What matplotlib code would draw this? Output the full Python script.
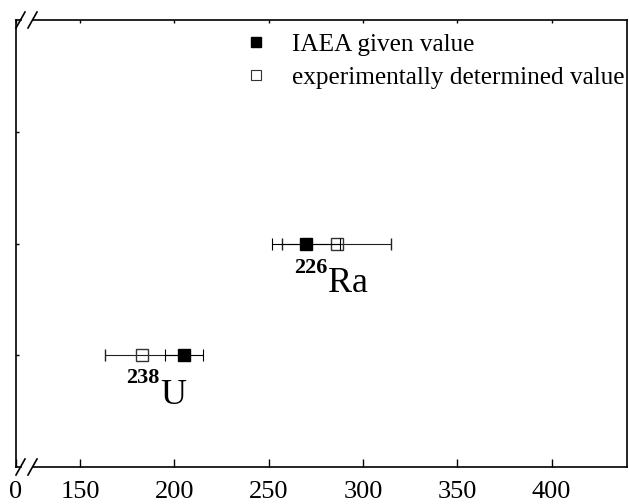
import matplotlib
matplotlib.use('Agg')
import matplotlib.pyplot as plt
from matplotlib.lines import Line2D

plt.rcParams['font.family'] = ['Liberation Serif', 'DejaVu Serif']

# activity values per nuclide, row 1 = U-238, row 2 = Ra-226
rows = [1, 2]
iaea_val = [205, 270]
iaea_err = [10, 18]
exp_val = [183, 286]
exp_err = [20, 29]

xticks = [116, 150, 200, 250, 300, 350, 400]
xticklabels = ['0', '150', '200', '250', '300', '350', '400']


def draw():
    fig = plt.figure(figsize=(6.29, 5.04), dpi=100)
    ax = fig.add_axes([16 / 629, 1 - 467 / 504, 611 / 629, 447 / 504])

    ax.errorbar(exp_val, rows, xerr=exp_err, fmt='s', ms=9, mfc='none',
                mec='#333333', mew=1.0, ecolor='#222222', elinewidth=0.8,
                capsize=4, capthick=0.8, zorder=3)
    ax.errorbar(iaea_val, rows, xerr=iaea_err, fmt='s', ms=9, color='k',
                ecolor='k', elinewidth=0.8, capsize=4, capthick=0.8, zorder=4)

    ax.set_xlim(116, 440)
    ax.set_ylim(0, 4)
    ax.set_xticks(xticks)
    ax.set_xticklabels(xticklabels, fontsize=19)
    ax.set_yticks([1, 2, 3])
    ax.set_yticklabels([])
    ax.tick_params(axis='x', direction='in', length=6, width=1, top=True, pad=10)
    ax.tick_params(axis='y', direction='in', length=2, width=1)
    for t in ax.xaxis.get_major_ticks():
        t.tick2line.set_markersize(2)

    # broken x axis: split top/bottom spines with slashes
    ax.spines['top'].set_visible(False)
    ax.spines['bottom'].set_visible(False)
    ax.spines['left'].set_linewidth(1.2)
    ax.spines['right'].set_linewidth(1.2)
    w, h = 611.0, 447.0
    for yy in (0, 1):
        ax.plot([0, 5 / w], [yy, yy], color='k', lw=1.2,
                transform=ax.transAxes, clip_on=False)
        ax.plot([17 / w, 1], [yy, yy], color='k', lw=1.2,
                transform=ax.transAxes, clip_on=False)
        for x0 in (0, 12 / w):
            ax.plot([x0, x0 + 9 / w], [yy - 8 / h, yy + 8 / h], color='k',
                    lw=1.2, transform=ax.transAxes, clip_on=False)

    # nuclide labels
    ax.text(281.0, 1.74, '226', ha='right', va='baseline', fontsize=16,
            fontweight='bold')
    ax.text(281.5, 1.57, 'Ra', ha='left', va='baseline', fontsize=26)
    ax.text(192.0, 0.75, '238', ha='right', va='baseline', fontsize=16,
            fontweight='bold')
    ax.text(192.5, 0.565, 'U', ha='left', va='baseline', fontsize=26)

    handles = [
        Line2D([], [], marker='s', ls='none', color='k', ms=7),
        Line2D([], [], marker='s', ls='none', mfc='none', mec='#333333',
               mew=0.8, ms=7),
    ]
    ax.legend(handles, ['IAEA given value', 'experimentally determined value'],
              loc='upper left', bbox_to_anchor=(0.355, 0.993), frameon=False,
              fontsize=18.2, handlelength=1, handletextpad=0.95,
              labelspacing=0.4, borderaxespad=0)

    fig.savefig('out.png', dpi=100)


if __name__ == "__main__":
    draw()
